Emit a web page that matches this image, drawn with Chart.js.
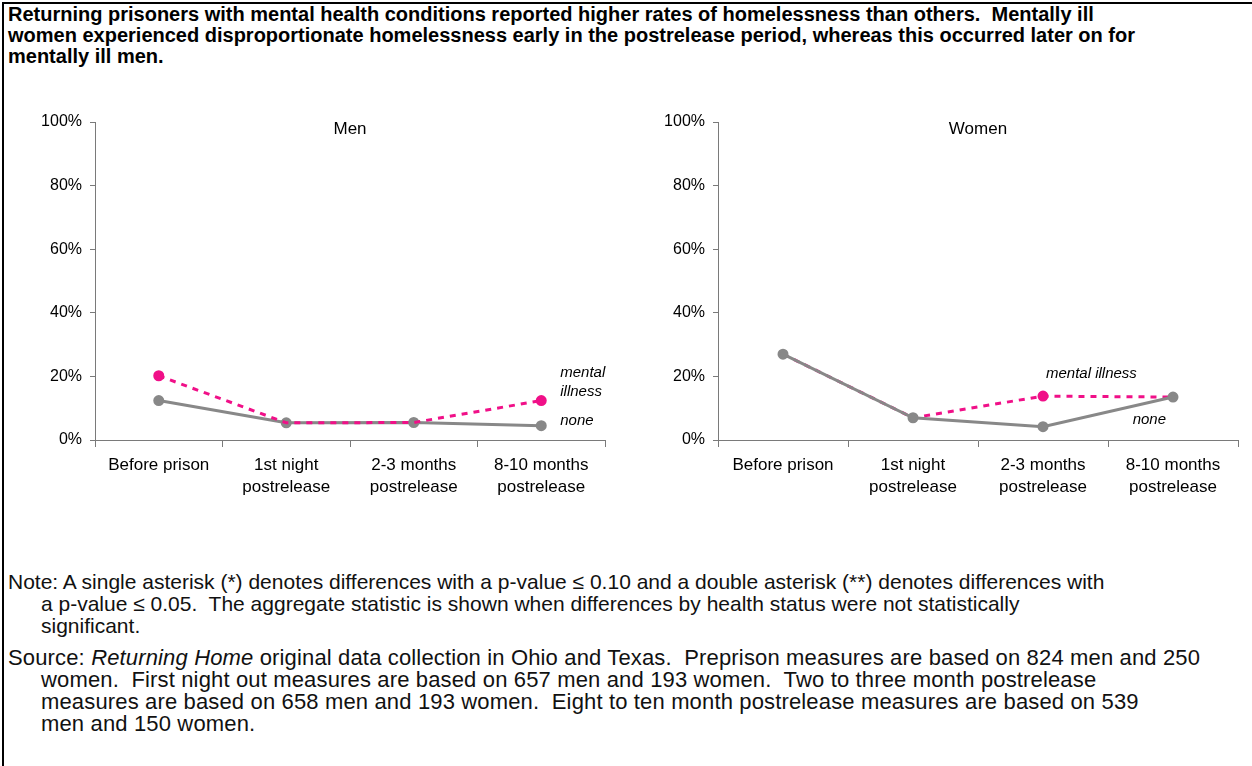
<!DOCTYPE html>
<html>
<head>
<meta charset="utf-8">
<script src="https://cdn.jsdelivr.net/npm/chart.js@4"></script>
<style>
  body { margin: 0; background: #fff; width: 1252px; height: 766px; overflow: hidden; position: relative; font-family: "Liberation Sans", Arial, sans-serif; }
  #frame { position: absolute; left: 2px; top: 2px; width: 1260px; height: 800px; border-left: 2px solid #000; border-top: 2px solid #000; }
  #title { position: absolute; left: 8px; top: 4px; font-weight: bold; font-size: 20px; line-height: 21px; white-space: nowrap; }
  .box { position: absolute; top: 100px; height: 420px; }
  #menBox { left: 0; width: 630px; }
  #womenBox { left: 630px; width: 622px; }
  .notes { position: absolute; left: 8px; line-height: 22px; white-space: nowrap; color: #111; }
  .notes div { padding-left: 33px; }
  .notes div:first-child { padding-left: 0; }
  #note { top: 571px; font-size: 21px; }
  #source { top: 647px; font-size: 22px; letter-spacing: 0.15px; }
</style>
</head>
<body>
<div id="frame"></div>
<div id="title">Returning prisoners with mental health conditions reported higher rates of homelessness than others.&nbsp; Mentally ill<br>women experienced disproportionate homelessness early in the postrelease period, whereas this occurred later on for<br>mentally ill men.</div>
<div class="box" id="menBox"><canvas id="menChart"></canvas></div>
<div class="box" id="womenBox"><canvas id="womenChart"></canvas></div>
<div class="notes" id="note">
  <div>Note: A single asterisk (*) denotes differences with a p-value &le; 0.10 and a double asterisk (**) denotes differences with</div>
  <div>a p-value &le; 0.05.&nbsp; The aggregate statistic is shown when differences by health status were not statistically</div>
  <div>significant.</div>
</div>
<div class="notes" id="source">
  <div>Source: <i>Returning Home</i> original data collection in Ohio and Texas.&nbsp; Preprison measures are based on 824 men and 250</div>
  <div>women.&nbsp; First night out measures are based on 657 men and 193 women.&nbsp; Two to three month postrelease</div>
  <div>measures are based on 658 men and 193 women.&nbsp; Eight to ten month postrelease measures are based on 539</div>
  <div>men and 150 women.</div>
</div>
<script>
// periods on the x axis
const periods = [
  "Before prison",
  ["1st night", "postrelease"],
  ["2-3 months", "postrelease"],
  ["8-10 months", "postrelease"]
];
const yTicks = [0, 20, 40, 60, 80, 100];

// percent homeless
const menMental = [20.2, 5.4, 5.5, 12.4];
const menNone = [12.4, 5.4, 5.5, 4.5];
const womenMental = [27, 7, 13.8, 13.5];
const womenNone = [27, 7, 4.2, 13.5];

const pink = "#F01088";
const grey = "#888888";
const axisGrey = "#7A7A7A";

// draws the panel heading and the series labels next to the lines
const textPlugin = {
  id: "panelText",
  afterDatasetsDraw(chart, args, opts) {
    const ctx = chart.ctx;
    const area = chart.chartArea;
    const xs = chart.scales.x;
    const ys = chart.scales.y;
    ctx.save();
    ctx.fillStyle = "#000";
    ctx.font = "17px 'Liberation Sans', Arial";
    ctx.textAlign = "center";
    ctx.textBaseline = "middle";
    ctx.fillText(opts.heading, (area.left + area.right) / 2, area.top + 7);
    ctx.font = "italic 15px 'Liberation Sans', Arial";
    opts.labels.forEach((l) => {
      const ds = chart.data.datasets[l.ds];
      const px = xs.getPixelForValue(l.idx);
      const py = ys.getPixelForValue(ds.data[l.idx]);
      ctx.textAlign = l.align;
      l.lines.forEach((t, i) => {
        ctx.fillText(t, px + l.dx, py + l.dy + i * 19);
      });
    });
    ctx.restore();
  }
};

function makeChart(canvas, mental, none, opt) {
  return new Chart(canvas, {
    type: "line",
    data: {
      labels: periods,
      datasets: [
        {
          label: "mental illness",
          data: mental,
          borderColor: pink,
          backgroundColor: pink,
          borderWidth: 3,
          borderDash: [6, 6],
          pointRadius: opt.pinkRadius,
          pointHoverRadius: 0,
          order: opt.pinkOrder,
          tension: 0
        },
        {
          label: "none",
          data: none,
          borderColor: grey,
          backgroundColor: grey,
          borderWidth: 3,
          pointRadius: 4,
          pointHoverRadius: 0,
          order: 1,
          tension: 0
        }
      ]
    },
    options: {
      responsive: true,
      maintainAspectRatio: false,
      animation: false,
      events: [],
      layout: { autoPadding: false, padding: { top: 22, right: opt.padRight, left: 0, bottom: 0 } },
      plugins: {
        legend: { display: false },
        tooltip: { enabled: false },
        panelText: { heading: opt.heading, labels: opt.labels }
      },
      scales: {
        x: {
          offset: true,
          afterFit: (s) => { s.height = 80; },
          grid: { offset: true, drawOnChartArea: false, tickLength: 7, color: axisGrey },
          border: { color: axisGrey, width: 1 },
          ticks: { color: "#000", font: { size: 17, family: "'Liberation Sans', Arial", lineHeight: 1.3 }, padding: 7, maxRotation: 0, autoSkip: false }
        },
        y: {
          min: 0,
          max: 100,
          afterFit: (s) => { s.width = opt.yWidth; },
          afterBuildTicks: (s) => { s.ticks = yTicks.map((v) => ({ value: v })); },
          grid: { drawOnChartArea: false, tickLength: 5, color: axisGrey },
          border: { color: axisGrey, width: 1 },
          ticks: { color: "#000", font: { size: 16, family: "'Liberation Sans', Arial" }, padding: 8, callback: (v) => v + "%" }
        }
      }
    },
    plugins: [textPlugin]
  });
}

makeChart(document.getElementById("menChart"), menMental, menNone, {
  heading: "Men",
  yWidth: 95,
  padRight: 25,
  pinkOrder: 0,
  pinkRadius: [4, 0, 0, 4],
  labels: [
    { ds: 0, idx: 3, dx: 19, dy: -28, align: "left", lines: ["mental", "illness"] },
    { ds: 1, idx: 3, dx: 19, dy: -5, align: "left", lines: ["none"] }
  ]
});

makeChart(document.getElementById("womenChart"), womenMental, womenNone, {
  heading: "Women",
  yWidth: 88,
  padRight: 14,
  pinkOrder: 2,
  pinkRadius: [0, 0, 4, 0],
  labels: [
    { ds: 0, idx: 2, dx: 3, dy: -22, align: "left", lines: ["mental illness"] },
    { ds: 1, idx: 3, dx: -7, dy: 23, align: "right", lines: ["none"] }
  ]
});
</script>
</body>
</html>
